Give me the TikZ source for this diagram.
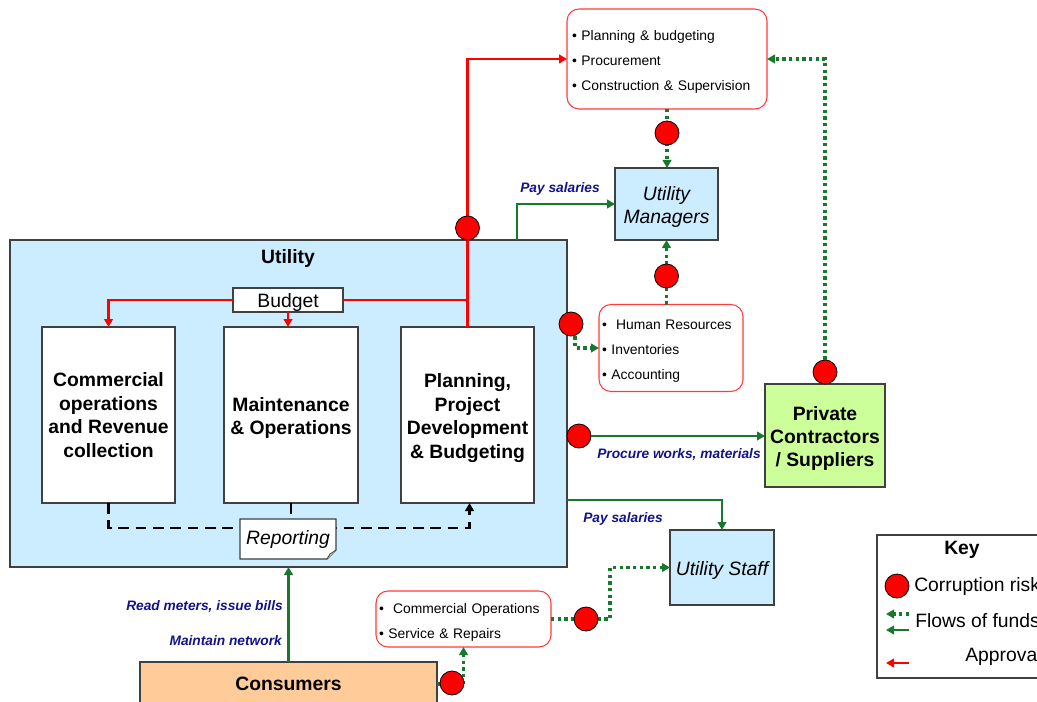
\documentclass[tikz,border=0pt]{standalone}
\usepackage{fontspec}
\setmainfont{Liberation Sans}
\usetikzlibrary{arrows.meta,positioning,calc}
\definecolor{utilfill}{HTML}{CCECFF}
\definecolor{privfill}{HTML}{CCFF99}
\definecolor{consfill}{HTML}{FFCC99}
\definecolor{riskred}{HTML}{FF0000}
\definecolor{fundgreen}{HTML}{17782E}
\definecolor{labelblue}{HTML}{12128C}
\definecolor{boxline}{HTML}{404040}
\definecolor{listline}{HTML}{FF3B3B}
\newcommand\lift{\rule{0pt}{15pt}}
\newcommand\liftsmall{\rule{0pt}{12pt}}
\tikzset{
  every node/.style={font=\fontsize{14.5}{17.6}\selectfont, text=black},
  px/.style 2 args={minimum width=#1*0.75pt, minimum height=#2*0.75pt},
  box/.style={rectangle, draw=boxline, line width=0.8pt, inner sep=0pt,
    outer sep=0pt, align=center},
  plainbox/.style={box, fill=white},
  unitbox/.style={box, fill=#1},
  heading/.style={font=\fontsize{14.5}{17.6}\selectfont\bfseries},
  slanted/.style={font=\fontsize{14.5}{17.6}\selectfont\itshape},
  listbox/.style={rectangle, rounded corners=9pt, draw=listline, line width=0.8pt,
    fill=white, align=left, inner xsep=#1*0.75pt, inner ysep=0pt, outer sep=0pt,
    font=\fontsize{10.4}{18.8}\selectfont},
  risk/.style={circle, fill=riskred, draw=black, line width=0.6pt,
    minimum size=18pt, inner sep=0pt},
  approve/.style={draw=riskred, line width=2.2pt},
  approveflow/.style={approve, -{Triangle[length=6pt,width=6.5pt]}},
  fund/.style={-{Triangle[length=6pt,width=6.5pt]}, draw=fundgreen, line width=2.2pt},
  funddot/.style={fund, line width=2.5pt, dash pattern=on 2.5pt off 2.5pt},
  report/.style={draw=black, line width=2.2pt, dash pattern=on 8pt off 5pt},
  reportflow/.style={report, -{Triangle[length=6pt,width=6.5pt]}},
  flowlabel/.style={font=\fontsize{10.3}{12}\selectfont\bfseries\itshape,
    text=labelblue, inner sep=0pt},
}

\begin{document}
\begin{tikzpicture}[x=0.75pt,y=-0.75pt]
\useasboundingbox (0,0) rectangle (1037,702);
\clip (0,0) rectangle (1037,702);

% ---- Utility ---------------------------------------------------------------
\node[unitbox=utilfill, px={557}{327}] (util) at (288.5,403.5) {};
\node[heading] (utit) at (288,258) {Utility};
\node[plainbox, px={110}{22}] (bud) at (288,300) {\lift Budget};
\node[plainbox, heading, px={133}{176}] (comm) at (108.5,415)
  {Commercial\\operations\\and Revenue\\collection};
\node[plainbox, heading, px={134}{176}] (maint) at (291,415)
  {\lift Maintenance\\\& Operations};
\node[plainbox, heading, px={133}{176}] (plan) at (467.5,415)
  {\lift Planning,\\Project\\Development\\\& Budgeting};

\draw[approve] (bud.east) -- (bud.east -| plan.north);
\draw[approveflow] (bud.west) -| (comm.north);
\draw[approveflow] (bud.south) -- (bud.south |- maint.north);

% reporting back to planning
\draw[reportflow] (comm.south) -- ++(0,25) -| ([xshift=1.5pt]plan.south);
\node[plainbox, draw=none, slanted, px={96}{40}] (rep) at (288,539) {Reporting};
\fill[utilfill] (rep.south east) -- ++(-9,0) -- ++(9,-9) -- cycle;
\draw[line width=0.8pt, draw=boxline] (rep.south west) -- (rep.north west)
  -- (rep.north east) -- ($(rep.south east)+(0,-9)$)
  -- ($(rep.south east)+(-9,0)$) -- cycle;
\draw[line width=0.6pt, draw=boxline, fill=gray!30] ($(rep.south east)+(-9,0)$)
  -- ($(rep.south east)+(-6,-5)$) -- ($(rep.south east)+(0,-9)$);
\draw[report] (maint.south) -- (maint.south |- rep.north);

% ---- Outside parties -------------------------------------------------------
\node[listbox=5, text width=142.5pt, px={200}{100}] (tbx) at (667,59)
  {\liftsmall• Planning \& budgeting\\• Procurement\\• Construction \& Supervision};
\node[unitbox=utilfill, slanted, px={103}{72}] (mgr) at (666.5,204)
  {\lift Utility\\Managers};
\node[listbox=3, text width=103.5pt, px={144}{87}] (hr) at (671,348)
  {\liftsmall•\ \ Human Resources\\• Inventories\\• Accounting};
\node[unitbox=privfill, heading, px={120}{103}] (priv) at (825,435.5)
  {\lift Private\\Contractors\\/ Suppliers};
\node[unitbox=utilfill, slanted, px={104}{75}] (staff) at (722,567.5)
  {\lift Utility Staff};
\node[listbox=3, text width=126.75pt, px={175}{56}] (svc) at (463.5,619)
  {\liftsmall•\ \ Commercial Operations\\• Service \& Repairs};
\node[unitbox=consfill, heading, px={297}{44}] (cons) at (288.5,684) {Consumers};

% ---- Approvals and flows of funds -----------------------------------------
\draw[approveflow] (plan.north) |- (tbx.west);
\draw[fund] ([xshift=-37.5pt]util.north east) |- (mgr.west);
\draw[fund] ([yshift=50.25pt]util.south east) -| (staff.north);
\draw[fund] (cons.north) -- (cons.north |- util.south);

\node[risk] (r5) at (579,436) {};
\draw[fund] (r5.east) -- (r5.east -| priv.west);
\node[risk] (r6) at (825,372) {};
\draw[funddot] (r6.north) |- (tbx.east);
\node[risk] (r4) at (571,324) {};
\draw[funddot] ([xshift=3pt]r4.south) |- (hr.west);

\draw[funddot] (tbx.south) -- (tbx.south |- mgr.north);
\draw[funddot] (mgr.south |- hr.north) -- (mgr.south);
\draw[funddot] (svc.east) -- ++(59,0) |- (staff.west);
\draw[funddot] (cons.east) -| (svc.south);

\node[risk] (r1) at (467.5,228) {};
\node[risk] (r2) at (667,133) {};
\node[risk] (r3) at (666.5,276) {};
\node[risk] (r7) at (586,619) {};
\node[risk] (r8) at (452,683) {};

\node[flowlabel] (lpay1) at (560,189) {Pay salaries};
\node[flowlabel] (lpay2) at (623,519) {Pay salaries};
\node[flowlabel] (lproc) at (679,455) {Procure works, materials};
\node[flowlabel, anchor=east] (lread) at (283,607) {Read meters, issue bills};
\node[flowlabel, anchor=east] (lmain) at (282,641) {Maintain network};

% ---- Key -------------------------------------------------------------------
\node[plainbox, px={173}{143}] (key) at (963.5,606.5) {};
\node[heading] (keyt) at (962,550) {Key};
\node[risk] (rk) at (897,586) {};
\node[anchor=west, inner sep=0pt] (krisk) at (914,586) {Corruption risks};
\coordinate (kd1) at (909,614);
\coordinate (kd2) at (886,614);
\draw[funddot] (kd1) -- (kd2);
\coordinate (ks1) at (909,630);
\coordinate (ks2) at (886,630);
\draw[fund] (ks1) -- (ks2);
\node[anchor=west, inner sep=0pt] (kfund) at (915,621) {Flows of funds};
\coordinate (ka1) at (909,663);
\coordinate (ka2) at (886,663);
\draw[approveflow] (ka1) -- (ka2);
\node[anchor=west, inner sep=0pt] (kappr) at (965,656) {Approval};

\end{tikzpicture}
\end{document}
